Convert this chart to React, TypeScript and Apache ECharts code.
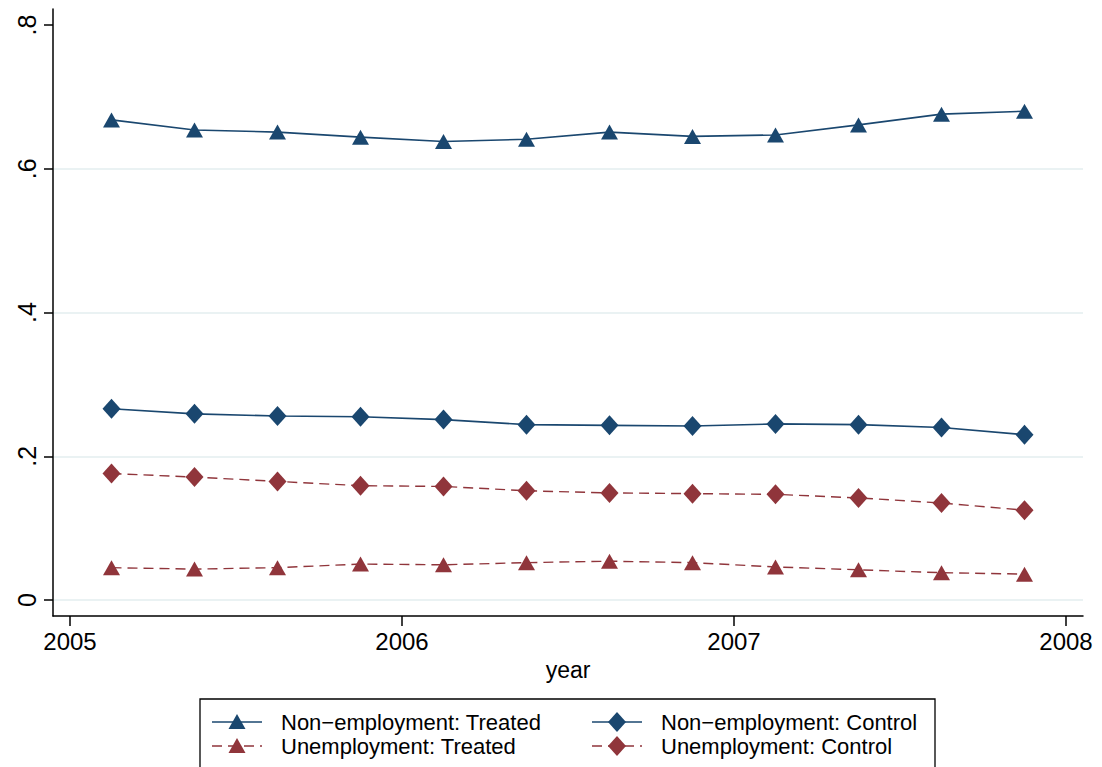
import React, { useEffect, useRef } from "react";
import * as echarts from "echarts";

const periods = [2005.125, 2005.375, 2005.625, 2005.875, 2006.125, 2006.375, 2006.625, 2006.875, 2007.125, 2007.375, 2007.625, 2007.875];
const nonEmpTreated = [0.668, 0.654, 0.651, 0.644, 0.638, 0.641, 0.651, 0.645, 0.647, 0.661, 0.676, 0.680];
const nonEmpControl = [0.266, 0.259, 0.256, 0.255, 0.251, 0.244, 0.243, 0.242, 0.245, 0.244, 0.240, 0.230];
const unempTreated = [0.045, 0.043, 0.045, 0.050, 0.049, 0.052, 0.054, 0.052, 0.046, 0.042, 0.038, 0.036];
const unempControl = [0.176, 0.171, 0.165, 0.159, 0.158, 0.152, 0.149, 0.148, 0.147, 0.142, 0.135, 0.125];
const xTicks = [2005, 2006, 2007, 2008];
const yTicks = [0, 0.2, 0.4, 0.6, 0.8];
const yGridTicks = [0, 0.2, 0.4, 0.6];
const yTickLabels = ["0", ".2", ".4", ".6", ".8"];
const seriesNames = [
  "Non\u2212employment: Treated",
  "Non\u2212employment: Control",
  "Unemployment: Treated",
  "Unemployment: Control",
];

const NAVY = "#1a476f";
const MAROON = "#90353b";
const FONT = "'Liberation Sans', Arial, Helvetica, sans-serif";

const pair = (ys: number[]) => periods.map((x, i) => [x, ys[i]]);

// legend key drawing (line + marker), positioned in the legend box
const legendKey = (x0: number, y: number, color: string, marker: string, dashed: boolean) => {
  const cx = x0 + 25;
  const els: any[] = [
    {
      type: "line",
      shape: { x1: x0, y1: y, x2: x0 + 50, y2: y },
      style: { stroke: color, lineWidth: dashed ? 1.4 : 1.6, lineDash: dashed ? [10, 6] : null },
      silent: true,
    },
  ];
  if (marker === "triangle") {
    els.push({
      type: "polygon",
      shape: { points: [[cx - 8.5, y + 7], [cx + 8.5, y + 7], [cx, y - 8]] },
      style: { fill: color },
      silent: true,
    });
  } else {
    els.push({
      type: "polygon",
      shape: { points: [[cx, y - 10], [cx + 9, y], [cx, y + 10], [cx - 9, y]] },
      style: { fill: color },
      silent: true,
    });
  }
  return els;
};

export default function App() {
  const ref = useRef<HTMLDivElement>(null);
  useEffect(() => {
    if (!ref.current) return;
    const chart = echarts.init(ref.current, null, { renderer: "svg" });
    const yFmt = (v: number) => {
      const i = yTicks.findIndex((t) => Math.abs(t - v) < 1e-9);
      return i >= 0 ? yTickLabels[i] : "";
    };
    const mkSeries = (name: string, data: number[], color: string, symbol: string, size: number[], dashed: boolean) => ({
      name,
      type: "line",
      data: pair(data),
      symbol,
      symbolSize: size,
      showAllSymbol: true,
      itemStyle: { color },
      lineStyle: { color, width: dashed ? 1.4 : 1.6, type: dashed ? [10, 6] : "solid" },
      emphasis: { disabled: true },
    });
    const legendBase = {
      orient: "horizontal",
      icon: "rect",
      itemWidth: 50,
      itemHeight: 20,
      itemGap: 0,
      padding: 0,
      selectedMode: false,
      itemStyle: { color: "rgba(0,0,0,0)", borderWidth: 0 },
      lineStyle: { opacity: 0 },
      textStyle: { fontFamily: FONT, fontSize: 22, color: "#000", padding: [0, 0, 0, 14] },
    };
    chart.setOption({
      animation: false,
      backgroundColor: "#fff",
      grid: { left: 53, right: 19, top: 9, bottom: 151, containLabel: false },
      xAxis: {
        type: "value",
        min: 2005 - 17 / 332,
        max: 2008 + 17 / 332,
        name: "year",
        nameLocation: "middle",
        nameGap: 42,
        nameTextStyle: { fontFamily: FONT, fontSize: 23, color: "#000" },
        axisLine: { show: true, onZero: false, lineStyle: { color: "#000", width: 1.5 } },
        axisTick: { show: true, length: 10, customValues: xTicks, lineStyle: { color: "#000", width: 1.5 } },
        axisLabel: {
          customValues: xTicks,
          fontFamily: FONT,
          fontSize: 24,
          color: "#000",
          margin: 13,
          formatter: (v: number) => String(Math.round(v)),
        },
        splitLine: { show: false },
      },
      yAxis: [
        {
          type: "value",
          min: -16 / 718.75,
          max: 0.8 + 16 / 718.75,
          axisLine: { show: true, onZero: false, lineStyle: { color: "#000", width: 1.5 } },
          axisTick: { show: true, length: 9, customValues: yTicks, lineStyle: { color: "#000", width: 1.5 } },
          axisLabel: {
            customValues: yTicks,
            rotate: 90,
            fontFamily: FONT,
            fontSize: 25,
            color: "#000",
            margin: 14,
            formatter: yFmt,
          },
          splitLine: { show: false },
        },
        {
          type: "value",
          position: "left",
          min: -16 / 718.75,
          max: 0.8 + 16 / 718.75,
          axisLine: { show: false },
          axisTick: { show: false, customValues: yGridTicks },
          axisLabel: { show: false, customValues: yGridTicks },
          splitLine: { show: true, lineStyle: { color: "#eaf2f3", width: 2 } },
        },
      ],
      legend: [
        { ...legendBase, data: [seriesNames[0]], left: 212, top: 711 },
        { ...legendBase, data: [seriesNames[1]], left: 592, top: 711 },
        { ...legendBase, data: [seriesNames[2]], left: 212, top: 735 },
        { ...legendBase, data: [seriesNames[3]], left: 592, top: 735 },
      ],
      graphic: [
        {
          type: "rect",
          shape: { x: 200, y: 699, width: 735, height: 90 },
          style: { fill: "none", stroke: "#000", lineWidth: 1.3 },
          silent: true,
        },
        ...legendKey(212, 722, NAVY, "triangle", false),
        ...legendKey(592, 722, NAVY, "diamond", false),
        ...legendKey(212, 746, MAROON, "triangle", true),
        ...legendKey(592, 746, MAROON, "diamond", true),
      ],
      series: [
        mkSeries(seriesNames[0], nonEmpTreated, NAVY, "triangle", [17, 15], false),
        mkSeries(seriesNames[1], nonEmpControl, NAVY, "diamond", [18, 20], false),
        mkSeries(seriesNames[2], unempTreated, MAROON, "triangle", [17, 15], true),
        mkSeries(seriesNames[3], unempControl, MAROON, "diamond", [18, 20], true),
      ],
    });
    return () => chart.dispose();
  }, []);
  return (
    <div
      ref={ref}
      style={{ position: "fixed", left: 0, top: 0, width: 1102, height: 767, background: "#fff" }}
    />
  );
}
